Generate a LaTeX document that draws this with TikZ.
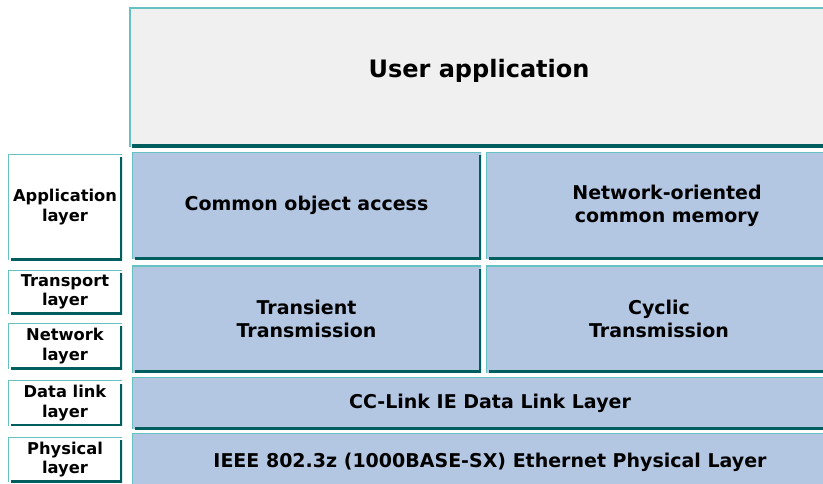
\documentclass[tikz,border=0pt]{standalone}
\usepackage{fontspec}
\setmainfont{DejaVu Sans}
\usepackage{tikz}
\usetikzlibrary{positioning}

\definecolor{edgelite}{RGB}{102,194,194}
\definecolor{edgedeep}{RGB}{0,94,94}
\definecolor{layerblue}{RGB}{179,198,226}
\definecolor{appgray}{RGB}{240,240,240}

\begin{document}
\begin{tikzpicture}[x=1pt, y=-1pt,
  bevel/.style={inner sep=0pt, align=center, font=\bfseries,
    path picture={
      \draw[edgelite, line width=#1]
        (path picture bounding box.south west) --
        (path picture bounding box.north west) --
        (path picture bounding box.north east);
      \draw[edgedeep, line width=2*#1]
        ([xshift=3pt]path picture bounding box.south west) --
        (path picture bounding box.south east) --
        ([yshift=-3pt]path picture bounding box.north east);
    }},
  proto/.style={bevel=2.5pt, fill=layerblue, font=\fontsize{19}{23}\bfseries},
  osi/.style={bevel=1.8pt, fill=white, minimum width=114pt,
              font=\fontsize{16.3}{19.5}\bfseries}]
\clip (0,0) rectangle (823,483);
\fill[white] (0,0) rectangle (823,483);

% top block
\node[bevel=3pt, fill=appgray, minimum width=700pt, minimum height=140pt,
      text depth=17pt, font=\fontsize{24}{26}\bfseries] (user) at (479,77)
  {User application};

% protocol stack
\node[proto, minimum width=349pt, minimum height=107pt] (obj) at (306.5,205.5)
  {Common object access};
\node[proto, minimum width=362pt, minimum height=107pt] (mem) at (667,205.5)
  {Network-oriented\\common memory};
\node[proto, minimum width=349pt, minimum height=107pt] (trans) at (306.5,319)
  {Transient\\Transmission};
\node[proto, minimum width=346pt, minimum height=107pt] (cyc) at (659,319)
  {Cyclic\\Transmission};
\node[proto, minimum width=716pt, minimum height=52pt] (dll) at (490,403)
  {CC-Link IE Data Link Layer};
\node[proto, minimum width=716pt, minimum height=58pt] (phy) at (490,462)
  {IEEE 802.3z (1000BASE-SX) Ethernet Physical Layer};

% OSI layer names
\node[osi, minimum height=106pt] (lapp) at (65,207) {Application\\layer};
\node[osi, minimum height=44pt] (ltrans) at (65,292) {Transport\\layer};
\node[osi, minimum height=46pt] (lnet) at (65,346) {Network\\layer};
\node[osi, minimum height=45pt] (ldl) at (65,403) {Data link\\layer};
\node[osi, minimum height=45pt] (lphy) at (65,459.5) {Physical\\layer};
\end{tikzpicture}
\end{document}
